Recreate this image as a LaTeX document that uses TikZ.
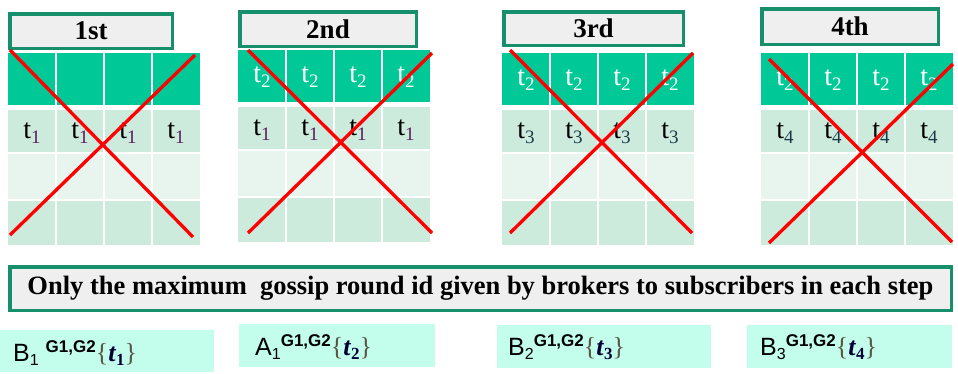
\documentclass[tikz,border=0pt]{standalone}
\usepackage{fontspec}
\setmainfont{Liberation Serif}
\setsansfont{Liberation Sans}
\definecolor{hdr}{HTML}{00C896}
\definecolor{rowa}{HTML}{CDEBDD}
\definecolor{rowb}{HTML}{E8F5EE}
\definecolor{frame}{HTML}{16906C}
\definecolor{titlebg}{HTML}{EFEFEF}
\definecolor{lblbg}{HTML}{C3FDEC}
\definecolor{subpurple}{HTML}{5A1A5A}
\definecolor{subteal}{HTML}{1A3A4A}
\newcommand\tsub[2]{t\raisebox{-5pt}{\fontsize{19}{19}\selectfont\textcolor{#1}{#2}}}
\newcommand\mytable[5]{%
  % #1 left, #2 top, #3 prefix, #4 header text, #5 row text
  \foreach \i in {0,...,3}{
    \fill[hdr] ({#1+\i*48},{#2}) rectangle ({#1+\i*48+48},{#2+52});
    \fill[rowa] ({#1+\i*48},{#2+57}) rectangle ({#1+\i*48+48},{#2+100});
    \fill[rowb] ({#1+\i*48},{#2+100}) rectangle ({#1+\i*48+48},{#2+147});
    \fill[rowa] ({#1+\i*48},{#2+147}) rectangle ({#1+\i*48+48},{#2+192});
    \node[htext] (#3h\i) at ({#1+24+\i*48},{#2+27}) {#4};
    \node[ttext] (#3r\i) at ({#1+24+\i*48},{#2+80}) {#5};
  }
  \foreach \i in {1,2,3}{
    \draw[sep] ({#1+\i*48},{#2}) -- ({#1+\i*48},{#2+192});
  }
  \foreach \y in {100,147}{
    \draw[sep] ({#1},{#2+\y}) -- ({#1+192},{#2+\y});
  }
}
\begin{document}
\begin{tikzpicture}[x=1pt,y=-1pt,
  sep/.style={draw=white, line width=1.3pt},
  titlebox/.style={draw=frame, line width=3.5pt, fill=titlebg, inner sep=0pt,
    font=\fontsize{27}{29}\selectfont\bfseries},
  cross/.style={draw=red, line width=3.3pt},
  ttext/.style={font=\fontsize{28}{30}\selectfont, inner sep=0pt},
  htext/.style={ttext, text=white},
  lblbox/.style={fill=lblbg, inner sep=0pt},
  lbltext/.style={font=\fontsize{25}{27}\sffamily, inner sep=0pt, anchor=base west},
  banner/.style={draw=frame, line width=3.5pt, fill=titlebg, inner sep=0pt,
    font=\fontsize{26.5}{28}\selectfont\bfseries},
]
\useasboundingbox (0,0) rectangle (958,373);
\fill[white] (0,0) rectangle (958,373);

% tables
\mytable{8}{53}{a}{}{\tsub{subpurple}{1}}
\mytable{238}{50}{b}{\tsub{white}{2}}{\tsub{subpurple}{1}}
\mytable{502}{53}{c}{\tsub{white}{2}}{\tsub{subteal}{3}}
\mytable{761}{53}{d}{\tsub{white}{2}}{\tsub{subteal}{4}}

% titles
\node[titlebox, minimum width=162.5pt, minimum height=34.5pt] (t1) at (91,31) {1st};
\node[titlebox, minimum width=176.5pt, minimum height=34.5pt] (t2) at (328,29) {2nd};
\node[titlebox, minimum width=179.5pt, minimum height=33.5pt] (t3) at (593.5,28.5) {3rd};
\node[titlebox, minimum width=176.5pt, minimum height=35.5pt] (t4) at (850,26.5) {4th};

% crosses
\draw[cross] (10,50) -- (193,237);
\draw[cross] (195,55) -- (10,235);
\draw[cross] (248,50) -- (432,233);
\draw[cross] (432,53) -- (248,233);
\draw[cross] (510,50) -- (692,233);
\draw[cross] (693,53) -- (510,233);
\draw[cross] (769,59) -- (952,242);
\draw[cross] (953,64) -- (769,243);

% banner
\node[banner, minimum width=941.5pt, minimum height=43.5pt] (ban) at (480.5,288.5)
  {Only the maximum\ \ gossip round id given by brokers to subscribers in each step};

% labels
\node[lblbox, minimum width=214pt, minimum height=42pt] (l1) at (107,351) {};
\node[lblbox, minimum width=196pt, minimum height=43pt] (l2) at (337,345.5) {};
\node[lblbox, minimum width=214pt, minimum height=43pt] (l3) at (604,346.5) {};
\node[lblbox, minimum width=205pt, minimum height=43pt] (l4) at (849.5,346.5) {};

\newcommand\lblsub[1]{\raisebox{-4pt}{\fontsize{16}{16}\selectfont #1}}
\newcommand\lblsup{\raisebox{9pt}{\fontsize{17}{17}\selectfont\bfseries G1,G2}}
\newcommand\lblset[1]{{\rmfamily\fontsize{26}{28}\selectfont\textcolor{black!75!yellow}{\{}\textcolor{black!80!blue}{\textbf{\textit{t}}\raisebox{-4pt}{\fontsize{17}{17}\selectfont\bfseries #1}}\textcolor{black!75!yellow}{\}}}}

\node[lbltext] (x1) at (13,361) {B\lblsub{1} \lblsup\lblset{1}};
\node[lbltext] (x2) at (255,355) {A\lblsub{1}\lblsup\lblset{2}};
\node[lbltext] (x3) at (508,355) {B\lblsub{2}\lblsup\lblset{3}};
\node[lbltext] (x4) at (760,355) {B\lblsub{3}\lblsup\lblset{4}};
\end{tikzpicture}
\end{document}
